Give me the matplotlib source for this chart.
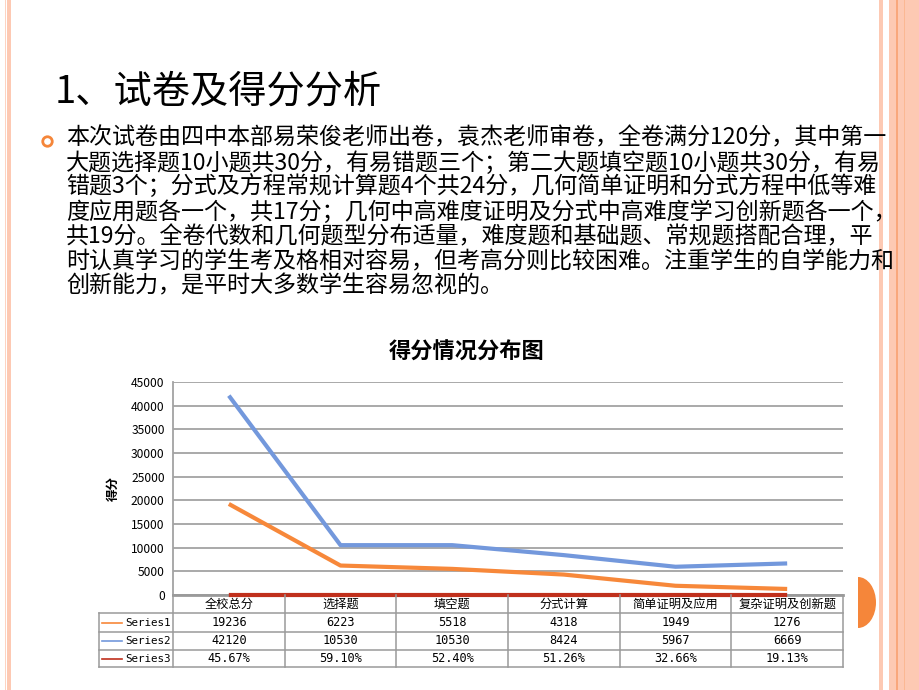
import matplotlib
matplotlib.use('Agg')
import matplotlib.pyplot as plt
import matplotlib.patches as mpatches
import matplotlib.transforms as mtransforms

plt.rcParams['font.family'] = ['Noto Sans CJK SC', 'DejaVu Sans']

# ---- data ----
categories = ['全校总分', '选择题', '填空题', '分式计算', '简单证明及应用', '复杂证明及创新题']
series_names = ['Series1', 'Series2', 'Series3']
series1 = [19236, 6223, 5518, 4318, 1949, 1276]
series2 = [42120, 10530, 10530, 8424, 5967, 6669]
series3 = [0.4567, 0.5910, 0.5240, 0.5126, 0.3266, 0.1913]
series_colors = ['#f7883a', '#7398dc', '#c0301c']

slide_title = '1、试卷及得分分析'
paragraph = [
    '本次试卷由四中本部易荣俊老师出卷，袁杰老师审卷，全卷满分120分，其中第一',
    '大题选择题10小题共30分，有易错题三个；第二大题填空题10小题共30分，有易',
    '错题3个；分式及方程常规计算题4个共24分，几何简单证明和分式方程中低等难',
    '度应用题各一个，共17分；几何中高难度证明及分式中高难度学习创新题各一个，',
    '共19分。全卷代数和几何题型分布适量，难度题和基础题、常规题搭配合理，平',
    '时认真学习的学生考及格相对容易，但考高分则比较困难。注重学生的自学能力和',
    '创新能力，是平时大多数学生容易忽视的。',
]
chart_title = '得分情况分布图'
y_label = '得分'

W, H = 920, 690


def fx(px):
    return px / W


def fy(py):
    return 1 - py / H


def draw_frame(fig):
    light = '#fdc9b3'
    stripes = [(4.5, 1.2, '#fdd3c2'), (7, 4, light),
               (879, 4, light), (889, 7, light), (896, 2, '#f9a77c'),
               (898, 6, light), (904, 1.5, '#fbb893'), (905.5, 14.5, light)]
    for x0, w, c in stripes:
        fig.patches.append(mpatches.Rectangle((fx(x0), 0), w / W, 1, transform=fig.transFigure,
                                              facecolor=c, edgecolor='none', zorder=0))
    # orange half disc on the right edge
    tr = mtransforms.Affine2D().scale(18 / W, 25.5 / H).translate(fx(858), fy(602.5)) + fig.transFigure
    fig.patches.append(mpatches.Wedge((0, 0), 1, -90, 90, transform=tr,
                                      facecolor='#f5863a', edgecolor='none'))
    # bullet ring
    fig.patches.append(mpatches.Ellipse((fx(47.5), fy(141.5)), 9.5 / W, 9.5 / H, transform=fig.transFigure,
                                        facecolor='none', edgecolor='#f5863a', linewidth=2))


def draw_text(fig):
    fig.text(fx(55), fy(92), slide_title, fontsize=27.5, va='center', ha='left', color='black')
    for i, line in enumerate(paragraph):
        fig.text(fx(66), fy(138 + i * 24.7), line, fontsize=16.6, va='center', ha='left', color='black',
                 zorder=5)
    fig.text(fx(467), fy(352), chart_title, fontsize=16, fontweight='bold', ha='center', va='center')


def draw_chart(fig):
    ax = fig.add_axes([fx(173), fy(595), 670 / W, 213 / H])
    x = list(range(len(categories)))
    for vals, c in zip([series1, series2, series3], series_colors):
        ax.plot(x, vals, color=c, linewidth=3, solid_capstyle='butt', zorder=3, clip_on=False)

    ax.set_xlim(-0.5, len(categories) - 0.5)
    ax.set_ylim(0, 45000)
    ax.set_yticks(range(0, 45001, 5000))
    ax.set_xticks([])
    ax.tick_params(axis='y', length=0, pad=6, labelsize=8.7)
    ax.grid(axis='y', color='#a3a3a3', linewidth=1.3)
    for s in ['top', 'right']:
        ax.spines[s].set_visible(False)
    ax.spines['left'].set_color('#a3a3a3')
    ax.spines['left'].set_linewidth(1.3)
    ax.spines['bottom'].set_color('#9a9a9a')
    ax.spines['bottom'].set_linewidth(2)
    ax.set_ylabel(y_label, fontsize=9, fontweight='bold', labelpad=8)

    # data table under the plot
    trans = mtransforms.blended_transform_factory(ax.transData, ax.transAxes)
    ppx = 213.0
    row_edges = [595, 613, 632, 650, 667]
    ry = [(595 - p) / ppx for p in row_edges]
    cat_w = 670 / len(categories)
    left = -0.5 - (173 - 99) / cat_w
    right = len(categories) - 0.5
    grid_kw = dict(color='#9a9a9a', linewidth=1.1, transform=trans, clip_on=False, zorder=4)

    for y in ry[1:]:
        ax.plot([left, right], [y, y], **grid_kw)
    ax.plot([left, left], [ry[1], ry[-1]], **grid_kw)
    for i in range(len(categories) + 1):
        xb = i - 0.5
        ax.plot([xb, xb], [ry[0], ry[-1]], **grid_kw)

    hy = (ry[0] + ry[1]) / 2
    for i, name in enumerate(categories):
        ax.text(i, hy, name, transform=trans, ha='center', va='center', fontsize=8.8)

    rows = [[str(v) for v in series1], [str(v) for v in series2], ['%.2f%%' % (v * 100) for v in series3]]
    mono = ['DejaVu Sans Mono']
    for r, (name, vals, c) in enumerate(zip(series_names, rows, series_colors)):
        cy = (ry[r + 1] + ry[r + 2]) / 2
        x0 = left + 3 / cat_w
        x1 = left + 23 / cat_w
        ax.plot([x0, x1], [cy, cy], color=c, linewidth=1.2, transform=trans, clip_on=False)
        ax.text(-0.5 - 2 / cat_w, cy, name, transform=trans, ha='right', va='center', fontsize=7.8,
                family=mono)
        for i, v in enumerate(vals):
            ax.text(i, cy, v, transform=trans, ha='center', va='center', fontsize=8.6, family=mono)
    return ax


def main():
    fig = plt.figure(figsize=(W / 100, H / 100), dpi=100)
    draw_frame(fig)
    draw_text(fig)
    draw_chart(fig)
    fig.savefig('out.png', dpi=100)


if __name__ == '__main__':
    main()
